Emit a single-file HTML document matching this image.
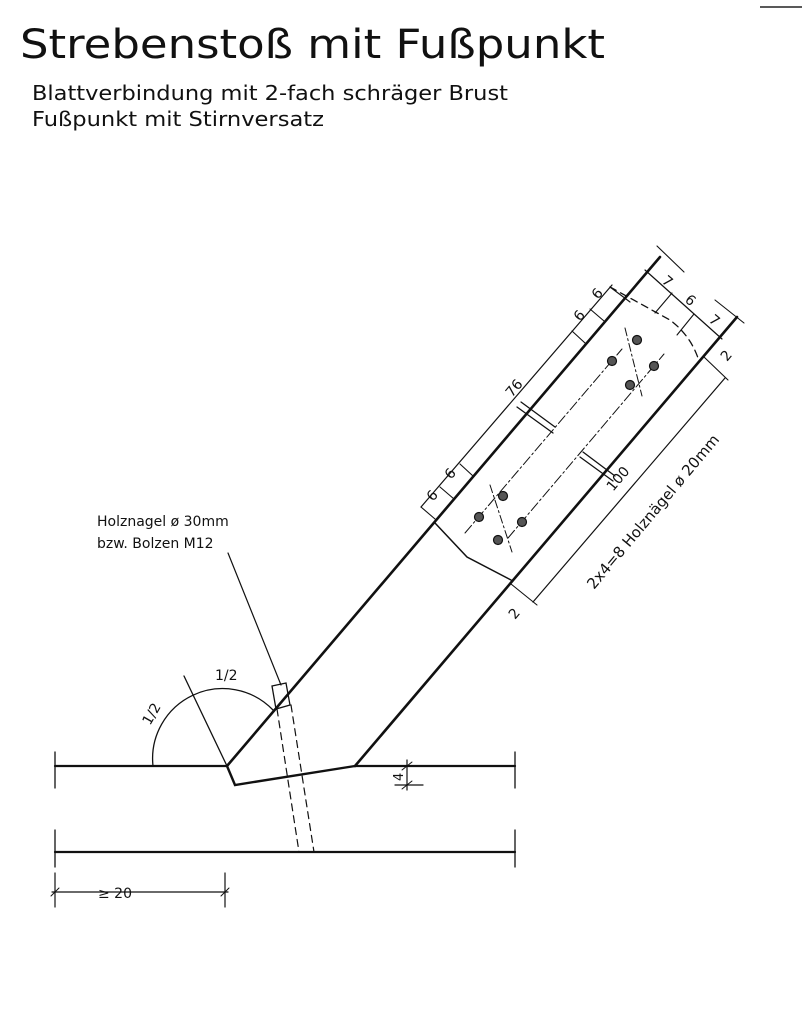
<!DOCTYPE html>
<html><head><meta charset="utf-8"><style>
body{margin:0;background:#fff}
svg{display:block}
text{font-family:"DejaVu Sans","Liberation Sans",sans-serif;fill:#111}
</style></head><body>
<svg width="804" height="1024" viewBox="0 0 804 1024" xmlns="http://www.w3.org/2000/svg">
<line x1="760" y1="7" x2="802" y2="7" stroke="#222" stroke-width="1.5"/>
<text x="20" y="58" font-size="40" textLength="585" lengthAdjust="spacingAndGlyphs">Strebenstoß mit Fußpunkt</text>
<text x="32" y="100" font-size="20" textLength="476" lengthAdjust="spacingAndGlyphs">Blattverbindung mit 2-fach schräger Brust</text>
<text x="32" y="126" font-size="20" textLength="292" lengthAdjust="spacingAndGlyphs">Fußpunkt mit Stirnversatz</text>

<g stroke="#111" fill="none" stroke-linecap="round">
<line x1="227" y1="766" x2="660" y2="257" stroke-width="2.6"/>
<line x1="355" y1="766" x2="737" y2="317" stroke-width="2.6"/>
<polyline points="435,523 467,557 511,580" stroke-width="1.5"/>
<path d="M610,287 L670,320 Q690,335 698,358" stroke-width="1.3" stroke-dasharray="7,5"/>
<line x1="55" y1="766" x2="227" y2="766" stroke-width="2.2"/>
<line x1="355" y1="766" x2="515" y2="766" stroke-width="2.2"/>
<polyline points="227,766 235,785 355,766" stroke-width="2.4"/>
<line x1="55" y1="852" x2="515" y2="852" stroke-width="2.2"/>
<line x1="55" y1="752" x2="55" y2="788" stroke-width="1.3"/>
<line x1="515" y1="752" x2="515" y2="788" stroke-width="1.3"/>
<line x1="55" y1="830" x2="55" y2="867" stroke-width="1.3"/>
<line x1="515" y1="830" x2="515" y2="867" stroke-width="1.3"/>
<path d="M153,766 A70,70 0 0 1 273,710" stroke-width="1.3"/>
<line x1="184" y1="676" x2="227" y2="766" stroke-width="1.3"/>
<polygon points="272,686 286,683 290,705 276,709" stroke-width="1.3"/>
<line x1="277" y1="709" x2="299" y2="852" stroke-width="1.2" stroke-dasharray="7,5"/>
<line x1="291" y1="705" x2="314" y2="852" stroke-width="1.2" stroke-dasharray="7,5"/>
<line x1="228" y1="553" x2="281" y2="685" stroke-width="1.2"/>
<line x1="407" y1="760" x2="407" y2="790" stroke-width="1.2"/>
<line x1="395" y1="785" x2="423" y2="785" stroke-width="1.2"/>
<line x1="402" y1="770" x2="412" y2="762"/><line x1="402" y1="789" x2="412" y2="781"/>
<line x1="55" y1="873" x2="55" y2="907" stroke-width="1.2"/>
<line x1="225" y1="873" x2="225" y2="907" stroke-width="1.2"/>
<line x1="52" y1="892" x2="228" y2="892" stroke-width="1.2"/>
<line x1="51" y1="896" x2="59" y2="888"/><line x1="221" y1="896" x2="229" y2="888"/>
<line x1="421" y1="507" x2="612" y2="285" stroke-width="1.2"/>
<g stroke-width="1.1">
<line x1="421" y1="507" x2="435" y2="519"/>
<line x1="440" y1="487" x2="454" y2="499"/>
<line x1="460" y1="464" x2="473" y2="476"/>
<line x1="572" y1="331" x2="585" y2="343"/>
<line x1="590" y1="309" x2="604" y2="321"/>
<line x1="610" y1="287" x2="630" y2="302"/>
</g>
<line x1="533" y1="602" x2="725" y2="378" stroke-width="1.2"/>
<line x1="511" y1="584" x2="537" y2="605" stroke-width="1.1"/>
<line x1="704" y1="357" x2="728" y2="380" stroke-width="1.1"/>
<line x1="645" y1="270" x2="722" y2="339" stroke-width="1.2"/>
<line x1="657" y1="246" x2="684" y2="272" stroke-width="1.1"/>
<line x1="715" y1="300" x2="744" y2="323" stroke-width="1.1"/>
<line x1="672" y1="293" x2="655" y2="313" stroke-width="1.1"/>
<line x1="694" y1="314" x2="677" y2="335" stroke-width="1.1"/>
<line x1="517" y1="407" x2="553" y2="433" stroke-width="1.3"/>
<line x1="521" y1="402" x2="555" y2="427" stroke-width="1.3"/>
<line x1="580" y1="457" x2="613" y2="481" stroke-width="1.3"/>
<line x1="583" y1="452" x2="615" y2="476" stroke-width="1.3"/>
<line x1="465" y1="533" x2="622" y2="349" stroke-width="1" stroke-dasharray="10,3,2,3"/>
<line x1="508" y1="538" x2="664" y2="354" stroke-width="1" stroke-dasharray="10,3,2,3"/>
<line x1="490" y1="485" x2="512" y2="552" stroke-width="1" stroke-dasharray="8,3,2,3"/>
<line x1="625" y1="328" x2="642" y2="396" stroke-width="1" stroke-dasharray="8,3,2,3"/>
</g>
<g fill="#555" stroke="#111" stroke-width="1.2">
<circle cx="503" cy="496" r="4.5"/><circle cx="479" cy="517" r="4.5"/>
<circle cx="522" cy="522" r="4.5"/><circle cx="498" cy="540" r="4.5"/>
<circle cx="637" cy="340" r="4.5"/><circle cx="612" cy="361" r="4.5"/>
<circle cx="654" cy="366" r="4.5"/><circle cx="630" cy="385" r="4.5"/>
</g>
<g font-size="14">
<text x="97" y="526">Holznagel ø 30mm</text>
<text x="97" y="548">bzw. Bolzen M12</text>
<text x="215" y="680">1/2</text>
<text x="150" y="726" transform="rotate(-60 150 726)">1/2</text>
<text x="98" y="898">≥ 20</text>
<text transform="translate(403,781) rotate(-90)" font-size="13">4</text>
<text transform="translate(433,502) rotate(-50)">6</text>
<text transform="translate(451,480) rotate(-50)">6</text>
<text transform="translate(512,398) rotate(-50)">76</text>
<text transform="translate(580,322) rotate(-50)">6</text>
<text transform="translate(598,300) rotate(-50)">6</text>
<text transform="translate(661,282) rotate(40)">7</text>
<text transform="translate(684,301) rotate(40)">6</text>
<text transform="translate(708,321) rotate(40)">7</text>
<text transform="translate(727,362) rotate(-50)">2</text>
<text transform="translate(515,620) rotate(-50)">2</text>
<text transform="translate(613,492) rotate(-50)">100</text>
<text transform="translate(594,590) rotate(-50)" font-size="15">2x4=8 Holznägel ø 20mm</text>
</g>
</svg>
</body></html>
